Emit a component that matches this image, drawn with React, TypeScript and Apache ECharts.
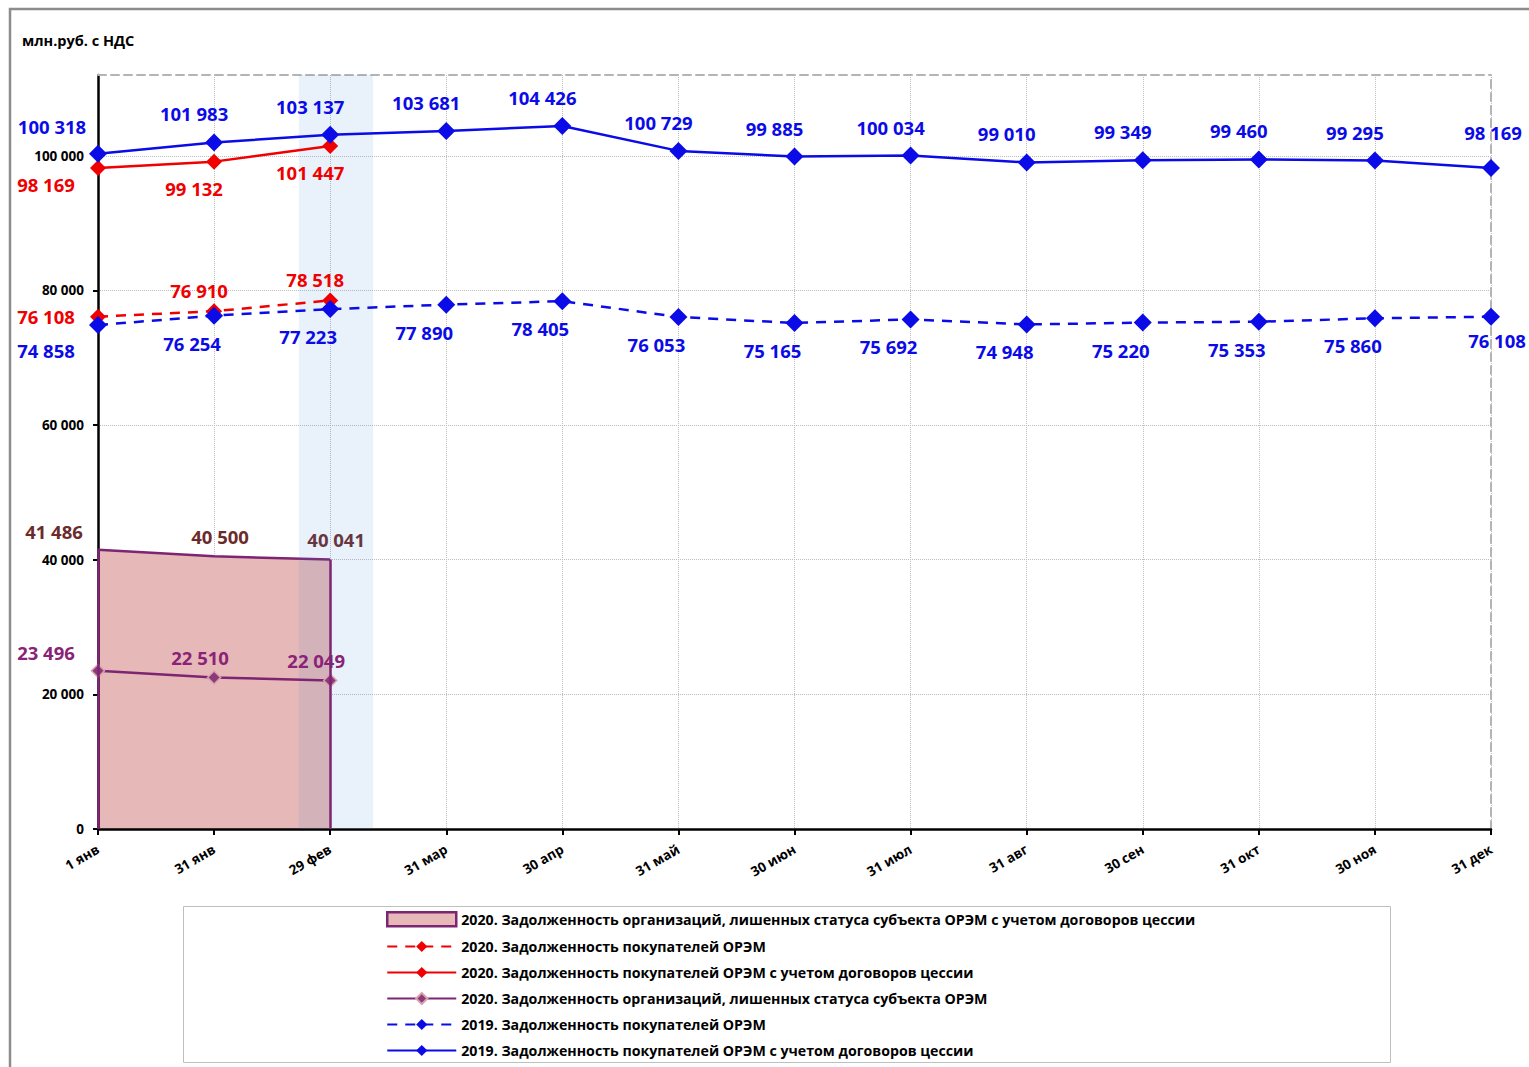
import React, { useEffect, useRef } from "react";
import * as echarts from "echarts";

const CATEGORIES = ["1 янв", "31 янв", "29 фев", "31 мар", "30 апр", "31 май", "30 июн", "31 июл", "31 авг", "30 сен", "31 окт", "30 ноя", "31 дек"];
const Y_TICKS = [0, 20000, 40000, 60000, 80000, 100000];

const BLUE_SOLID_2019 = [100318, 101983, 103137, 103681, 104426, 100729, 99885, 100034, 99010, 99349, 99460, 99295, 98169];
const BLUE_DASHED_2019 = [74858, 76254, 77223, 77890, 78405, 76053, 75165, 75692, 74948, 75220, 75353, 75860, 76108];
const RED_SOLID_2020 = [98169, 99132, 101447];
const RED_DASHED_2020 = [76108, 76910, 78518];
const PURPLE_2020 = [23496, 22510, 22049];
const AREA_2020 = [41486, 40500, 40041];
const BAND_RANGE = [1.73, 2.37];

const NAMES = {
  area: "2020. Задолженность организаций, лишенных статуса субъекта ОРЭМ с учетом договоров цессии",
  redDashed: "2020. Задолженность покупателей ОРЭМ",
  redSolid: "2020. Задолженность покупателей ОРЭМ с учетом договоров цессии",
  purple: "2020. Задолженность организаций, лишенных статуса субъекта ОРЭМ",
  blueDashed: "2019. Задолженность покупателей ОРЭМ",
  blueSolid: "2019. Задолженность покупателей ОРЭМ с учетом договоров цессии",
};

const FONT = "'Open Sans', 'DejaVu Sans', sans-serif";
const BLUE = "#0b0be8";
const RED = "#f00000";
const PURPLE = "#7d2472";
const PURPLE_LABEL = "#8a2378";
const BROWN = "#6b2b2b";

const fmt = (v: number) => String(Math.round(v)).replace(/\B(?=(\d{3})+(?!\d))/g, " ");

type Off = { first: number[]; mid: number[]; last: number[] };

function build(values: number[], pos: string, color: string, off: Off) {
  return values.map((v, i) => {
    const o = i === 0 ? off.first : i === values.length - 1 && values.length > 3 ? off.last : off.mid;
    return {
      value: [i, v],
      label: { show: true, position: pos, offset: o, color, formatter: () => fmt(v) },
    };
  });
}

const labelBase = { fontFamily: FONT, fontWeight: "bold", fontSize: 18.5 };

export default function App() {
  const ref = useRef<HTMLDivElement>(null);
  useEffect(() => {
    if (!ref.current) return;
    const chart = echarts.init(ref.current, undefined, { renderer: "svg" });
    const option: any = {
      animation: false,
      backgroundColor: "#ffffff",
      textStyle: { fontFamily: FONT },
      grid: { left: 98, right: 38, top: 75, bottom: 238, containLabel: false },
      graphic: [
        { type: "rect", shape: { x: 10, y: 9, width: 1560, height: 1100 }, style: { fill: "none", stroke: "#8c8c8c", lineWidth: 2.5 }, silent: true, z: -1 },
        { type: "rect", shape: { x: 183.5, y: 906.5, width: 1207, height: 156 }, style: { fill: "none", stroke: "#bfbfbf", lineWidth: 1 }, silent: true },
        { type: "text", left: 22, top: 33, style: { text: "млн.руб. с НДС", font: `bold 14.5px ${FONT}`, fill: "#000" } },
      ],
      legend: {
        orient: "vertical",
        left: 386,
        top: 911,
        itemWidth: 69,
        itemHeight: 14,
        itemGap: 12,
        padding: 0,
        textStyle: { fontFamily: FONT, fontWeight: "bold", fontSize: 14.2, color: "#000", lineHeight: 14 },
        data: [
          { name: NAMES.area, icon: "rect", itemStyle: { color: "#e6b8b7", borderColor: PURPLE, borderWidth: 2.5 } },
          NAMES.redDashed,
          NAMES.redSolid,
          NAMES.purple,
          NAMES.blueDashed,
          NAMES.blueSolid,
        ],
      },
      xAxis: [
        {
          type: "value",
          min: 0,
          max: CATEGORIES.length - 1,
          interval: 1,
          axisLine: { lineStyle: { color: "#000", width: 2.5 } },
          axisTick: { show: true, length: 6, lineStyle: { color: "#000", width: 2 } },
          axisLabel: {
            rotate: 30,
            margin: 19,
            fontFamily: FONT,
            fontWeight: "bold",
            fontSize: 13.5,
            color: "#000",
            formatter: (v: number) => CATEGORIES[Math.round(v)] ?? "",
          },
          splitLine: { show: true, lineStyle: { color: "#bdbdbd", type: "dotted", width: 1 } },
        },
        {
          type: "value",
          position: "top",
          min: 0,
          max: CATEGORIES.length - 1,
          axisLine: { show: true, onZero: false, lineStyle: { color: "#b4b4b4", width: 2, type: [8, 5] } },
          axisTick: { show: false },
          axisLabel: { show: false },
          splitLine: { show: false },
        },
      ],
      yAxis: [
        {
          type: "value",
          min: 0,
          max: 112000,
          interval: 20000,
          axisLine: { show: true, lineStyle: { color: "#000", width: 2.5 } },
          axisTick: { show: true, length: 5, lineStyle: { color: "#000", width: 2 }, customValues: Y_TICKS },
          axisLabel: {
            customValues: Y_TICKS,
            margin: 14,
            fontFamily: FONT,
            fontWeight: "bold",
            fontSize: 13.5,
            color: "#000",
            formatter: (v: number) => fmt(v),
          },
          splitLine: { show: true, lineStyle: { color: "#bdbdbd", type: "dotted", width: 1 } },
        },
        {
          type: "value",
          position: "right",
          min: 0,
          max: 112000,
          axisLine: { show: true, onZero: false, lineStyle: { color: "#b4b4b4", width: 2, type: [8, 5] } },
          axisTick: { show: false },
          axisLabel: { show: false },
          splitLine: { show: false },
        },
      ],
      series: [
        {
          name: NAMES.area,
          type: "line",
          z: 0,
          symbol: "circle",
          symbolSize: 0.1,
          itemStyle: { color: PURPLE },
          lineStyle: { color: PURPLE, width: 2.5 },
          areaStyle: { color: "#e6b8b7", opacity: 1 },
          label: { ...labelBase },
          data: build(AREA_2020, "top", BROWN, { first: [-44, -4], mid: [6, -5], last: [6, -5] }),
          markLine: {
            silent: true,
            symbol: "none",
            label: { show: false },
            lineStyle: { color: PURPLE, width: 2.5, type: "solid" },
            data: [
              [{ coord: [0, 0] }, { coord: [0, AREA_2020[0]] }],
              [{ coord: [AREA_2020.length - 1, 0] }, { coord: [AREA_2020.length - 1, AREA_2020[AREA_2020.length - 1]] }],
            ],
          },
          markArea: {
            silent: true,
            z: 1,
            itemStyle: { color: "rgba(70,140,210,0.12)" },
            data: [[{ xAxis: BAND_RANGE[0] }, { xAxis: BAND_RANGE[1] }]],
          },
        },
        {
          name: NAMES.redDashed,
          type: "line",
          z: 3,
          symbol: "diamond",
          symbolSize: 16,
          itemStyle: { color: RED },
          lineStyle: { color: RED, width: 2.5, type: [10, 8] },
          label: { ...labelBase },
          data: build(RED_DASHED_2020, "top", RED, { first: [-52, 22], mid: [-15, 2], last: [-15, 2] }),
        },
        {
          name: NAMES.redSolid,
          type: "line",
          z: 3,
          symbol: "diamond",
          symbolSize: 16,
          itemStyle: { color: RED },
          lineStyle: { color: RED, width: 2.5 },
          label: { ...labelBase },
          data: build(RED_SOLID_2020, "bottom", RED, { first: [-52, -6], mid: [-20, 4], last: [-20, 4] }),
        },
        {
          name: NAMES.purple,
          type: "line",
          z: 3,
          symbol: "diamond",
          symbolSize: 13,
          itemStyle: { color: "#8b3a7c", borderColor: "#d9a3ab", borderWidth: 1.5 },
          lineStyle: { color: PURPLE, width: 2.5 },
          label: { ...labelBase },
          data: build(PURPLE_2020, "top", PURPLE_LABEL, { first: [-52, 3], mid: [-14, 2], last: [-14, 2] }),
        },
        {
          name: NAMES.blueDashed,
          type: "line",
          z: 4,
          symbol: "diamond",
          symbolSize: 18,
          itemStyle: { color: BLUE },
          lineStyle: { color: BLUE, width: 2.5, type: [10, 8] },
          label: { ...labelBase },
          data: build(BLUE_DASHED_2019, "bottom", BLUE, { first: [-52, 2], mid: [-22, 4], last: [6, 0] }),
        },
        {
          name: NAMES.blueSolid,
          type: "line",
          z: 4,
          symbol: "diamond",
          symbolSize: 18,
          itemStyle: { color: BLUE },
          lineStyle: { color: BLUE, width: 2.5 },
          label: { ...labelBase },
          data: build(BLUE_SOLID_2019, "top", BLUE, { first: [-46, -4], mid: [-20, -5], last: [2, -12] }),
        },
      ],
    };
    chart.setOption(option);
    return () => chart.dispose();
  }, []);
  return <div ref={ref} style={{ position: "absolute", left: 0, top: 0, width: 1529, height: 1067 }} />;
}
